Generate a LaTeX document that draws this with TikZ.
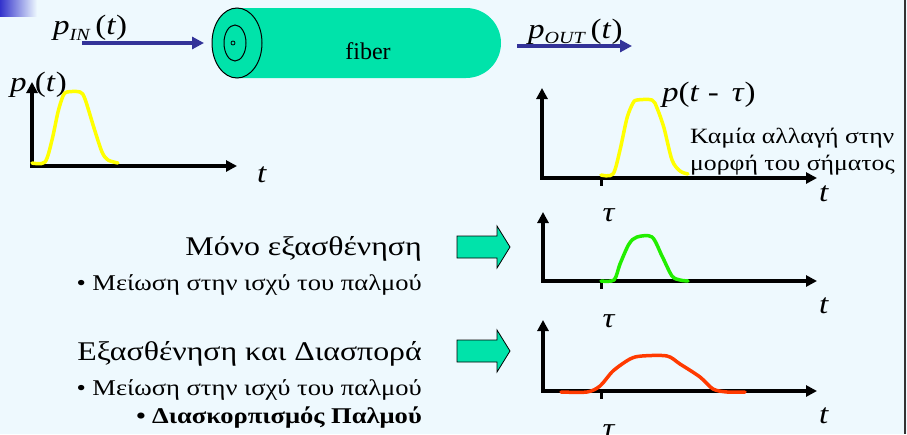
\documentclass[tikz,border=0pt]{standalone}
\usepackage{fontspec}
\setmainfont{Liberation Serif}
\newfontfamily\wideserif[FakeStretch=1.18]{Liberation Serif}
\usetikzlibrary{arrows.meta,positioning}
\definecolor{BgCyan}{HTML}{EEF9FE}
\definecolor{FiberGreen}{HTML}{00E3AA}
\definecolor{ArrBlue}{HTML}{333399}
\definecolor{CornerBlue}{HTML}{3333CC}
\definecolor{PulseYellow}{HTML}{FFFF00}
\definecolor{PulseGreen}{HTML}{22EE00}
\definecolor{PulseRed}{HTML}{FF3A00}
\definecolor{EdgeGray}{HTML}{333333}
\tikzset{
  axisLine/.style={
    line width=3.2pt,
    line join=miter,
    {Triangle[length=11pt,width=11pt]}-{Triangle[length=11pt,width=11pt]}
  },
  tickLine/.style={
    line width=3pt
  },
  pulseLine/.style={
    line width=3.5pt,
    line cap=round,
    line join=round
  },
  signalArrow/.style={
    line width=4pt,
    color=ArrBlue,
    -{Triangle[length=12pt,width=12pt]}
  },
  mathLbl/.style={
    font=\wideserif\fontsize{28pt}{28pt}\selectfont,
    inner sep=0pt
  },
  bigText/.style={
    font=\wideserif\fontsize{27pt}{27pt}\selectfont,
    inner sep=0pt
  },
  smallText/.style={
    font=\wideserif\fontsize{22.5pt}{22.5pt}\selectfont,
    inner sep=0pt
  },
  noteText/.style={
    font=\wideserif\fontsize{21.8pt}{21.8pt}\selectfont,
    inner sep=0pt
  },
  blockFill/.style={
    fill=FiberGreen,
    draw=black,
    line width=0.8pt
  },
  pics/blockArrow/.style={
    code={
      \draw[blockFill] (0,-11) -- (40,-11) -- (40,-21) -- (53,0)
        -- (40,21) -- (40,11) -- (0,11) -- cycle;
    }
  }
}
\begin{document}
\begin{tikzpicture}[x=1pt, y=-1pt]
  \useasboundingbox (0,0) rectangle (907,434);
  \fill[BgCyan] (0,0) rectangle (907,434);
  \shade[left color=CornerBlue, right color=BgCyan] (0,0) rectangle (37,16);
  \draw[EdgeGray, line width=1.5pt] (905,0) -- (905,434);

  % fiber
  \fill[FiberGreen] (237,8) [rounded corners=35pt] -- (501,8) -- (501,78)
    [sharp corners] -- (237,78) -- cycle;
  \draw[fill=FiberGreen, line width=1pt] (237,43) ellipse [x radius=25, y radius=35];
  \draw[line width=1pt] (235,43) ellipse [x radius=11, y radius=18];
  \draw[line width=0.8pt] (233,43) circle [radius=2];
  \node (fiber) at (368,51) [font=\fontsize{24pt}{24pt}\selectfont] {fiber};

  \coordinate (inTail) at (82,43);
  \coordinate (inHead) at (204,43);
  \coordinate (outTail) at (517,46);
  \coordinate (outHead) at (632,46);
  \draw[signalArrow] (inTail) -- (inHead);
  \draw[signalArrow] (outTail) -- (outHead);
  \node (pIn) at (53,34) [mathLbl, anchor=base west]
    {\textit{p}\raisebox{-6pt}{\fontsize{17pt}{17pt}\selectfont\textit{IN}}\,(\textit{t})};
  \node (pOut) at (528,38) [mathLbl, anchor=base west]
    {\textit{p}\raisebox{-5pt}{\fontsize{17pt}{17pt}\selectfont\textit{OUT}}\,(\textit{t})};

  % input pulse
  \node (pLbl) at (10,91) [mathLbl, anchor=base west] {\textit{p} (\textit{t})};
  \coordinate (ay0) at (32,82);
  \coordinate (o0) at (32,166);
  \coordinate (ax0) at (237,166);
  \draw[axisLine] (ay0) -- (o0) -- (ax0);
  \node (tLbl0) at (257,182) [mathLbl, anchor=base west] {\textit{t}};
  \draw[pulseLine, PulseYellow] plot[smooth, tension=0.5] coordinates {
    (32,163) (45,162) (52,140) (58,112) (63,96) (67,92) (80,92) (85,99)
    (94,128) (102,152) (108,160) (118,163)};

  % output pulse, no change
  \coordinate (ay1) at (542,88);
  \coordinate (o1) at (542,178);
  \coordinate (ax1) at (817,178);
  \coordinate (tk1) at (601,178);
  \coordinate (tkb1) at (601,186);
  \draw[axisLine] (ay1) -- (o1) -- (ax1);
  \draw[tickLine] (tk1) -- (tkb1);
  \draw[pulseLine, PulseYellow] plot[smooth, tension=0.5] coordinates {
    (601,175) (613,174) (620,150) (627,118) (633,103) (637,100) (652,100)
    (657,108) (664,128) (672,160) (680,171) (688,174)};
  \node (tau1) at (609,221) [mathLbl, anchor=base] {\textit{τ}};
  \node (tLbl1) at (819,201) [mathLbl, anchor=base west] {\textit{t}};
  \node (pShift) at (662,101) [mathLbl, anchor=base west]
    {\textit{p}(\textit{t} - \,\textit{τ})};
  \node (noChangeA) at (690,143) [noteText, anchor=base west] {Καμία αλλαγή στην};
  \node (noChangeB) at (690,170) [noteText, anchor=base west] {μορφή του σήματος};

  % attenuation only
  \node (attOnly) at (422,255) [bigText, anchor=base east] {Μόνο εξασθένηση};
  \node (attOnlyB) at (422,290) [smallText, anchor=base east] {• Μείωση στην ισχύ του παλμού};
  \pic at (457,247) {blockArrow};
  \coordinate (ay2) at (543,212);
  \coordinate (o2) at (543,281);
  \coordinate (ax2) at (817,281);
  \coordinate (tk2) at (601,281);
  \coordinate (tkb2) at (601,289);
  \draw[axisLine] (ay2) -- (o2) -- (ax2);
  \draw[tickLine] (tk2) -- (tkb2);
  \draw[pulseLine, PulseGreen] plot[smooth, tension=0.5] coordinates {
    (601,281) (614,280) (620,264) (629,244) (637,237) (652,237)
    (662,256) (672,276) (680,280) (688,281)};
  \node (tau2) at (609,327) [mathLbl, anchor=base] {\textit{τ}};
  \node (tLbl2) at (819,313) [mathLbl, anchor=base west] {\textit{t}};

  % attenuation and dispersion
  \node (attDisp) at (422,360) [bigText, anchor=base east] {Εξασθένηση και Διασπορά};
  \node (attDispB) at (422,395) [smallText, anchor=base east] {• Μείωση στην ισχύ του παλμού};
  \node (attDispC) at (422,423) [smallText, anchor=base east] {\textbf{• Διασκορπισμός Παλμού}};
  \pic at (457,351) {blockArrow};
  \coordinate (ay3) at (543,320);
  \coordinate (o3) at (543,391);
  \coordinate (ax3) at (817,391);
  \coordinate (tk3) at (601,391);
  \coordinate (tkb3) at (601,399);
  \draw[axisLine] (ay3) -- (o3) -- (ax3);
  \draw[tickLine] (tk3) -- (tkb3);
  \draw[pulseLine, PulseRed] plot[smooth, tension=0.5] coordinates {
    (561,392) (587,392) (600,386) (613,371) (630,359) (642,356) (667,356)
    (680,364) (700,377) (713,389) (727,392) (745,392)};
  \node (tau3) at (609,437) [mathLbl, anchor=base] {\textit{τ}};
  \node (tLbl3) at (819,423) [mathLbl, anchor=base west] {\textit{t}};
\end{tikzpicture}
\end{document}
